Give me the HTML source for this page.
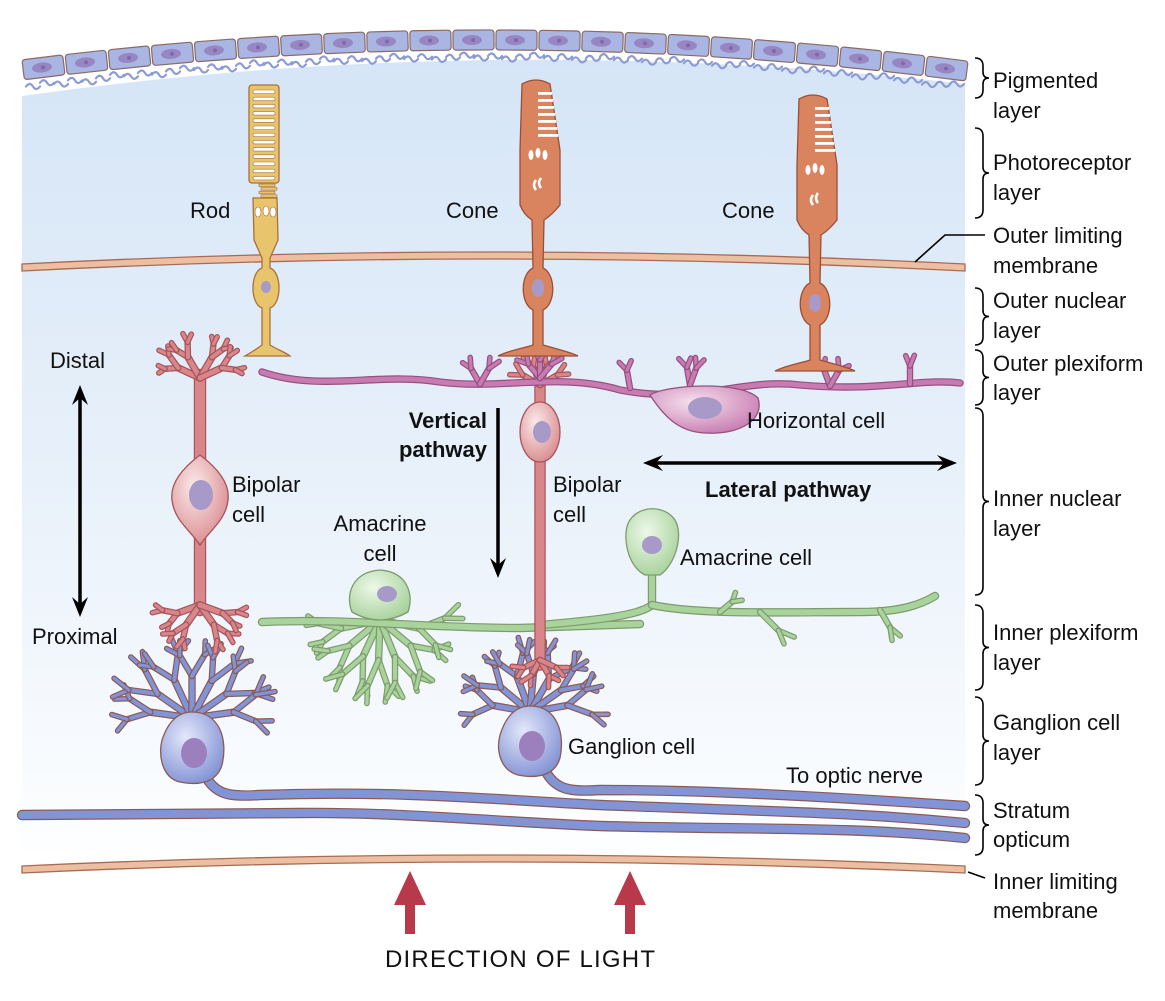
<!DOCTYPE html>
<html><head><meta charset="utf-8">
<style>
html,body{margin:0;padding:0;background:#fff;}
svg{display:block;}
text{font-family:"Liberation Sans",Arial,sans-serif;font-size:22px;fill:#111;}
.b{font-weight:bold;}
</style></head>
<body>
<svg id="s" width="1165" height="1001" viewBox="0 0 1165 1001" xmlns="http://www.w3.org/2000/svg">
<defs>
<linearGradient id="bg" x1="0" y1="0" x2="0" y2="1" gradientUnits="objectBoundingBox">
<stop offset="0" stop-color="#d5e5f7"/>
<stop offset="0.55" stop-color="#e9f1fa"/>
<stop offset="1" stop-color="#fdfeff"/>
</linearGradient>
<radialGradient id="gb" cx="0.4" cy="0.35" r="0.7"><stop offset="0" stop-color="#fbeaea"/><stop offset="1" stop-color="#d98a8e"/></radialGradient>
<radialGradient id="gg" cx="0.4" cy="0.35" r="0.7"><stop offset="0" stop-color="#eef8ea"/><stop offset="1" stop-color="#a6d29a"/></radialGradient>
<radialGradient id="gh" cx="0.4" cy="0.35" r="0.7"><stop offset="0" stop-color="#f6e2ef"/><stop offset="1" stop-color="#c77bb0"/></radialGradient>
<radialGradient id="gv" cx="0.4" cy="0.35" r="0.7"><stop offset="0" stop-color="#e4e8fa"/><stop offset="1" stop-color="#8292d4"/></radialGradient>
</defs>
<g id="g"></g>
<text x="190" y="218">Rod</text>
<text x="446" y="218">Cone</text>
<text x="722" y="218">Cone</text>
<text x="50" y="368">Distal</text>
<text x="32" y="644">Proximal</text>
<text class="b" x="487" y="428" text-anchor="end">Vertical</text>
<text class="b" x="487" y="457" text-anchor="end">pathway</text>
<text x="232" y="492">Bipolar</text><text x="232" y="522">cell</text>
<text x="553" y="492">Bipolar</text><text x="553" y="522">cell</text>
<text x="380" y="531" text-anchor="middle">Amacrine</text><text x="380" y="561" text-anchor="middle">cell</text>
<text x="680" y="565">Amacrine cell</text>
<text x="747" y="428">Horizontal cell</text>
<text class="b" x="705" y="497">Lateral pathway</text>
<text x="568" y="754">Ganglion cell</text>
<text x="786" y="783">To optic nerve</text>
<text x="385" y="967" style="font-size:24px" textLength="270" lengthAdjust="spacing">DIRECTION OF LIGHT</text>
<text x="993" y="88">Pigmented</text><text x="993" y="118">layer</text>
<text x="993" y="170">Photoreceptor</text><text x="993" y="200">layer</text>
<text x="993" y="243">Outer limiting</text><text x="993" y="273">membrane</text>
<text x="993" y="308">Outer nuclear</text><text x="993" y="338">layer</text>
<text x="993" y="371">Outer plexiform</text><text x="993" y="400">layer</text>
<text x="993" y="506">Inner nuclear</text><text x="993" y="536">layer</text>
<text x="993" y="640">Inner plexiform</text><text x="993" y="670">layer</text>
<text x="993" y="730">Ganglion cell</text><text x="993" y="760">layer</text>
<text x="993" y="818">Stratum</text><text x="993" y="847">opticum</text>
<text x="993" y="889">Inner limiting</text><text x="993" y="918">membrane</text>
</svg>
<script>
(function(){
var out=[];
function P(s){out.push(s);}
function f(x){return 30+0.000137*(x-490)*(x-490);}
P('<path d="M22,96 Q490,30 965,84 L965,850 L22,850 Z" fill="url(#bg)"/>');
for(var i=0;i<22;i++){
 var x=22+i*43+21, y=f(x)+10, a=Math.atan(2*0.000137*(x-490))*180/Math.PI;
 P('<g transform="translate('+x+','+y+') rotate('+a+')"><rect x="-20" y="-10" width="41" height="20" rx="3" fill="#a9b5e2" stroke="#8a6a64" stroke-width="1.2"/><ellipse cx="-1" cy="0" rx="10" ry="5" fill="#9886c2"/><circle cx="0" cy="0" r="2" fill="#7e6aa8"/></g>');
}
var sq='';
for(var x=26;x<960;x+=14){var y=f(x)+27+((x*7)%5)-2;sq+='M'+x+','+y+' q4,-5 7,0 t7,0 ';}
P('<path d="'+sq+'" fill="none" stroke="#8c9bd6" stroke-width="2.2" stroke-linecap="round"/>');
function memb(y0,yc){return '<path d="M22,'+y0+' Q490,'+(2*yc-y0)+' 965,'+y0+' L965,'+(y0+7)+' Q490,'+(2*yc-y0+7)+' 22,'+(y0+7)+' Z" fill="#ecbfa3" stroke="#a86b52" stroke-width="1.3"/>';}
P(memb(264,252));
P(memb(866,855));
function S(d,w,c,e){P('<path d="'+d+'" fill="none" stroke="'+e+'" stroke-width="'+(w+2.4)+'" stroke-linecap="round" stroke-linejoin="round"/><path d="'+d+'" fill="none" stroke="'+c+'" stroke-width="'+w+'" stroke-linecap="round" stroke-linejoin="round"/>');}
var seed=3;function rnd(){seed=(seed*9301+49297)%233280;return seed/233280;}
function tree(x,y,ang,len,depth,w,c,e){
 var r=ang*Math.PI/180,x2=x+len*Math.cos(r),y2=y+len*Math.sin(r);
 S('M'+x.toFixed(1)+','+y.toFixed(1)+' L'+x2.toFixed(1)+','+y2.toFixed(1),w,c,e);
 if(depth>0){var sp=20+rnd()*15;
  tree(x2,y2,ang-sp,len*(0.55+rnd()*0.15),depth-1,Math.max(2.5,w*0.8),c,e);
  tree(x2,y2,ang+sp,len*(0.55+rnd()*0.15),depth-1,Math.max(2.5,w*0.8),c,e);}
}
var BC='#d9868a',BE='#a5545a',GC='#a8d39a',GE='#7e9a6e',HC='#c77bb0',HE='#955080',VC='#8294d6',VE='#8a5a55',OC='#d9845e',OE='#9a4f35',YC='#e8c46c',YE='#a8703a';
S('M22,815 L300,813 C400,812 500,822 600,826 C750,830 850,826 965,838',8,VC,VE);
S('M205,775 C215,795 230,797 260,795 C400,790 500,800 600,805 C780,812 850,812 965,823',8,VC,VE);
S('M545,770 C555,790 570,792 600,790 C700,790 800,795 965,806',8,VC,VE);
[-172,-145,-115,-90,-62,-35,-8].forEach(function(a){tree(192,718,a,42,2,5,VC,VE);});
[-170,-140,-110,-85,-60,-35,-10].forEach(function(a){tree(530,712,a,38,2,5,VC,VE);});
[168,140,115,92,68,40,12].forEach(function(a){tree(380,620,a,40,2,5,GC,GE);});
S('M262,622 C350,618 420,628 520,628 L640,624',6,GC,GE);
S('M652,570 L652,605 C640,615 600,620 540,625',6,GC,GE);
S('M652,605 C700,615 780,612 860,612 C900,612 920,605 935,596',6,GC,GE);
tree(760,612,45,26,1,4,GC,GE);tree(880,610,60,20,1,4,GC,GE);tree(720,612,-40,16,1,4,GC,GE);
S('M200,375 L200,610',10,BC,BE);
[-155,-120,-60,-25].forEach(function(a){tree(200,378,a,24,2,5,BC,BE);});
[160,125,55,20].forEach(function(a){tree(200,605,a,24,2,5,BC,BE);});
P('<path d="M200,455 C220,470 230,485 228,500 C226,520 210,530 200,545 C190,530 174,520 172,500 C170,485 180,470 200,455Z" fill="url(#gb)" stroke="'+BE+'" stroke-width="1.3"/><ellipse cx="201" cy="495" rx="12" ry="15" fill="#a79ac8"/>');
S('M540,380 L540,665',9,BC,BE);
[-150,-110,-70,-30].forEach(function(a){tree(540,385,a,20,1,4,BC,BE);});
[155,120,60,25].forEach(function(a){tree(540,660,a,18,1,4,BC,BE);});
P('<ellipse cx="540" cy="432" rx="20" ry="30" fill="url(#gb)" stroke="'+BE+'" stroke-width="1.3"/><ellipse cx="542" cy="432" rx="9" ry="11" fill="#a79ac8"/>');
S('M262,372 C320,392 380,372 440,382 C500,390 560,372 620,390 C700,405 740,378 800,385 C880,392 920,378 960,383',5,HC,HE);
[-120,-60].forEach(function(a){tree(480,384,a,18,1,4,HC,HE);});
[-130,-90,-50].forEach(function(a){tree(540,378,a,18,1,4,HC,HE);});
[-100].forEach(function(a){tree(630,388,a,18,1,4,HC,HE);});
[-100,-70].forEach(function(a){tree(690,385,a,18,1,4,HC,HE);});
[-110,-60].forEach(function(a){tree(830,386,a,18,1,4,HC,HE);});
[-90].forEach(function(a){tree(910,384,a,18,1,4,HC,HE);});
P('<path d="M650,395 C665,385 740,380 758,398 C765,420 740,435 705,433 C680,432 665,418 650,395Z" fill="url(#gh)" stroke="'+HE+'" stroke-width="1.3"/><ellipse cx="705" cy="408" rx="17" ry="11" fill="#a79ac8"/>');
P('<path d="M352,612 C345,595 352,572 380,570 C408,572 414,595 408,612 Q380,628 352,612Z" fill="url(#gg)" stroke="'+GE+'" stroke-width="1.3"/><ellipse cx="387" cy="594" rx="10" ry="8" fill="#a79ac8"/>');
P('<path d="M645,575 C625,565 622,530 630,520 C640,505 665,505 675,520 C684,535 675,565 660,575 Z" fill="url(#gg)" stroke="'+GE+'" stroke-width="1.3"/><ellipse cx="652" cy="545" rx="10" ry="9" fill="#a79ac8"/>');
P('<path d="M192,712 C220,712 228,740 222,765 C216,785 195,785 180,782 C162,778 158,755 162,740 C168,722 178,712 192,712Z" fill="url(#gv)" stroke="'+VE+'" stroke-width="1.3"/><ellipse cx="194" cy="753" rx="13" ry="15" fill="#9c80be"/>');
P('<path d="M530,706 C558,706 565,735 560,758 C554,778 533,778 518,775 C500,770 496,750 500,735 C506,716 516,706 530,706Z" fill="url(#gv)" stroke="'+VE+'" stroke-width="1.3"/><ellipse cx="532" cy="746" rx="13" ry="15" fill="#9c80be"/>');
P('<path d="M253,198 L277,198 L278,240 L270,258 L270,268 C282,272 282,304 270,308 L270,345 C278,350 285,352 290,356 L245,356 C252,352 258,348 262,345 L262,308 C250,304 250,272 262,268 L262,258 L254,240 Z" fill="'+YC+'" stroke="'+YE+'" stroke-width="1.3"/>');
P('<rect x="249" y="85" width="30" height="98" rx="3" fill="'+YC+'" stroke="'+YE+'" stroke-width="1.3"/>');
for(var y=90;y<178;y+=7.2)P('<rect x="253" y="'+y+'" width="22" height="3.5" rx="1.5" fill="#fff" stroke="'+YE+'" stroke-width="0.6"/>');
for(var k=0;k<4;k++)P('<rect x="'+(259+(k%2)*2)+'" y="'+(184+k*3.6)+'" width="16" height="2.6" fill="'+YC+'" stroke="'+YE+'" stroke-width="0.6"/>');
P('<ellipse cx="258" cy="212" rx="3" ry="5" fill="#fff" stroke="'+YE+'" stroke-width=".6"/><ellipse cx="266" cy="211" rx="3" ry="5" fill="#fff" stroke="'+YE+'" stroke-width=".6"/><ellipse cx="273" cy="212" rx="3" ry="5" fill="#fff" stroke="'+YE+'" stroke-width=".6"/><ellipse cx="266" cy="287" rx="5" ry="6" fill="#a79ac8"/>');
function cone(cx,dy){
 var t='translate('+(cx-538)+','+dy+')';
 P('<g transform="'+t+'"><path d="M522,84 Q536,76 550,84 L560,150 L560,205 Q552,215 544,220 L543,268 C556,274 556,304 543,310 L543,345 C560,350 570,352 578,356 L498,356 C510,350 525,348 533,345 L533,310 C520,304 520,274 533,268 L532,220 Q524,215 520,205 L520,150 Z" fill="'+OC+'" stroke="'+OE+'" stroke-width="1.3"/>');
 for(var y=92;y<140;y+=7)P('<rect x="538" y="'+y+'" width="'+(14+(y-92)*0.15)+'" height="2.8" fill="#fff"/>');
 P('<ellipse cx="531" cy="155" rx="2.5" ry="5" fill="#fff"/><ellipse cx="538" cy="153" rx="2.5" ry="5" fill="#fff"/><ellipse cx="545" cy="155" rx="2.5" ry="5" fill="#fff"/><path d="M536,180 q-4,5 0,10 M541,178 q-4,5 0,10" stroke="#fff" stroke-width="2.5" fill="none"/><ellipse cx="538" cy="288" rx="6" ry="9" fill="#a79ac8"/>');
 P('</g>');
}
cone(538,0);cone(815,15);
function arrowV(x,y1,y2,both){P('<line x1="'+x+'" y1="'+(both?y1+12:y1)+'" x2="'+x+'" y2="'+(y2-12)+'" stroke="#000" stroke-width="3.5"/><path d="M'+(x-8)+','+(y2-20)+' L'+x+','+y2+' L'+(x+8)+','+(y2-20)+' L'+x+','+(y2-13)+'Z" fill="#000"/>'+(both?'<path d="M'+(x-8)+','+(y1+20)+' L'+x+','+y1+' L'+(x+8)+','+(y1+20)+' L'+x+','+(y1+13)+'Z" fill="#000"/>':''));}
arrowV(80,385,617,true);
arrowV(498,408,578,false);
P('<line x1="655" y1="463" x2="945" y2="463" stroke="#000" stroke-width="3.5"/><path d="M663,455 L643,463 L663,471 L656,463Z M937,455 L957,463 L937,471 L944,463Z" fill="#000"/>');
[410,630].forEach(function(x){P('<path d="M'+(x-5)+',934 L'+(x+5)+',934 L'+(x+5)+',905 L'+(x+16)+',905 L'+x+',871 L'+(x-16)+',905 L'+(x-5)+',905Z" fill="#b83a4a"/>');});
function br(y1,y2){var m=(y1+y2)/2;P('<path d="M975,'+y1+' Q983,'+y1+' 983,'+(y1+8)+' L983,'+(m-6)+' Q983,'+m+' 989,'+m+' Q983,'+m+' 983,'+(m+6)+' L983,'+(y2-8)+' Q983,'+y2+' 975,'+y2+'" fill="none" stroke="#000" stroke-width="1.6"/>');}
br(58,98);br(128,218);br(288,345);br(350,405);br(408,595);br(605,690);br(697,785);br(795,855);
P('<path d="M915,262 L945,235 L985,235" fill="none" stroke="#000" stroke-width="1.6"/><path d="M968,872 L985,878" stroke="#000" stroke-width="1.6"/>');
document.getElementById('g').innerHTML=out.join('');
})();
</script>
</body></html>
